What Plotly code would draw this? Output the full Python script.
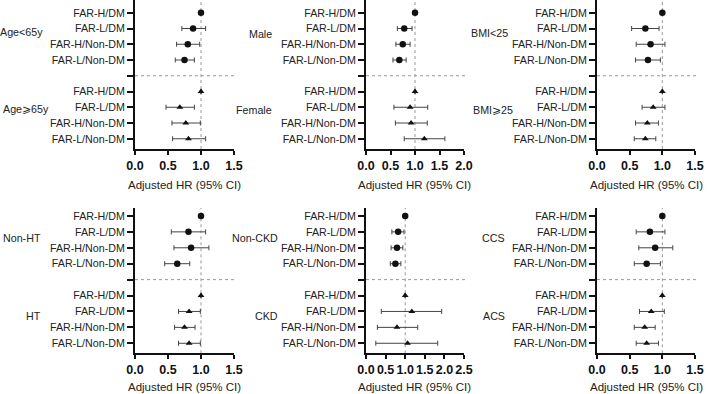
import plotly.graph_objects as go

# ---------------- data ----------------
row_labels = ["FAR-H/DM", "FAR-L/DM", "FAR-H/Non-DM", "FAR-L/Non-DM"]

# panel 1: age
age_lt65_hr = [1.00, 0.88, 0.80, 0.75]
age_lt65_lo = [None, 0.71, 0.63, 0.61]
age_lt65_hi = [None, 1.07, 0.98, 0.90]
age_ge65_hr = [1.00, 0.68, 0.77, 0.81]
age_ge65_lo = [None, 0.47, 0.56, 0.57]
age_ge65_hi = [None, 0.90, 0.99, 1.07]

# panel 2: sex
male_hr = [1.00, 0.78, 0.75, 0.68]
male_lo = [None, 0.64, 0.61, 0.55]
male_hi = [None, 0.94, 0.90, 0.82]
female_hr = [1.00, 0.90, 0.92, 1.19]
female_lo = [None, 0.57, 0.60, 0.78]
female_hi = [None, 1.26, 1.25, 1.61]

# panel 3: BMI
bmi_lt25_hr = [1.00, 0.74, 0.82, 0.78]
bmi_lt25_lo = [None, 0.53, 0.60, 0.59]
bmi_lt25_hi = [None, 0.95, 1.04, 0.97]
bmi_ge25_hr = [1.00, 0.86, 0.77, 0.74]
bmi_ge25_lo = [None, 0.69, 0.59, 0.57]
bmi_ge25_hi = [None, 1.04, 0.94, 0.90]

# panel 4: hypertension
nonht_hr = [1.00, 0.81, 0.85, 0.64]
nonht_lo = [None, 0.55, 0.59, 0.45]
nonht_hi = [None, 1.07, 1.12, 0.83]
ht_hr = [1.00, 0.82, 0.75, 0.82]
ht_lo = [None, 0.66, 0.60, 0.66]
ht_hi = [None, 0.99, 0.91, 0.99]

# panel 5: CKD
nonckd_hr = [1.00, 0.82, 0.79, 0.75]
nonckd_lo = [None, 0.66, 0.64, 0.62]
nonckd_hi = [None, 0.97, 0.94, 0.89]
ckd_hr = [1.00, 1.17, 0.79, 1.06]
ckd_lo = [None, 0.39, 0.29, 0.25]
ckd_hi = [None, 1.93, 1.32, 1.83]

# panel 6: CCS / ACS
ccs_hr = [1.00, 0.81, 0.89, 0.76]
ccs_lo = [None, 0.60, 0.64, 0.57]
ccs_hi = [None, 1.04, 1.16, 0.97]
acs_hr = [1.00, 0.83, 0.73, 0.76]
acs_lo = [None, 0.65, 0.57, 0.60]
acs_hi = [None, 1.03, 0.89, 0.94]

group_names = [("Age<65y", "Age\u2a7e65y"), ("Male", "Female"), ("BMI<25", "BMI\u2a7e25"),
               ("Non-HT", "HT"), ("Non-CKD", "CKD"), ("CCS", "ACS")]
x_max = [1.5, 2.0, 1.5, 1.5, 2.5, 1.5]
x_tick_vals = [[0, 0.5, 1.0, 1.5], [0, 0.5, 1.0, 1.5, 2.0], [0, 0.5, 1.0, 1.5],
               [0, 0.5, 1.0, 1.5], [0, 0.5, 1.0, 1.5, 2.0, 2.5], [0, 0.5, 1.0, 1.5]]

panels = [
    ((age_lt65_hr, age_lt65_lo, age_lt65_hi), (age_ge65_hr, age_ge65_lo, age_ge65_hi)),
    ((male_hr, male_lo, male_hi), (female_hr, female_lo, female_hi)),
    ((bmi_lt25_hr, bmi_lt25_lo, bmi_lt25_hi), (bmi_ge25_hr, bmi_ge25_lo, bmi_ge25_hi)),
    ((nonht_hr, nonht_lo, nonht_hi), (ht_hr, ht_lo, ht_hi)),
    ((nonckd_hr, nonckd_lo, nonckd_hi), (ckd_hr, ckd_lo, ckd_hi)),
    ((ccs_hr, ccs_lo, ccs_hi), (acs_hr, acs_lo, acs_hi)),
]

# ---------------- layout geometry (pixels) ----------------
W, H = 708, 394
FONT = "Liberation Sans, Arial, sans-serif"
x_px = [(135, 234), (366, 464), (597, 695), (135, 234), (366, 464), (597, 695)]
y_px = [(0, 149), (0, 149), (0, 149), (208, 353.3), (208, 353.3), (208, 353.3)]
y_range = [(8.65, -0.81)] * 3 + [(8.63, -0.5)] * 3
# (x position px, anchor) for each group label
label_pos = [((45, "right"), (0.5, "left")), ((274, "right"), (274, "right")),
             ((510, "right"), (470.5, "left")), ((43, "right"), (43, "right")),
             ((280, "right"), (280, "right")), ((507, "right"), (507, "right"))]
label_y_idx = [(1.25, 6.13), (1.35, 6.2), (1.3, 6.2), (1.4, 6.27), (1.4, 6.3), (1.37, 6.3)]
title_y_px = [185, 185, 185, 387, 387, 387]

y_tick_vals = [0, 1, 2, 3, 4, 5, 6, 7, 8]
y_tick_text = row_labels + [""] + row_labels

fig = go.Figure()
shapes = []
annotations = []


def err(hr, lo, hi):
    plus = [None if h is None else h - v for v, h in zip(hr, hi)]
    minus = [None if l is None else v - l for v, l in zip(hr, lo)]
    return plus, minus


for i, (top, bot) in enumerate(panels):
    n = i + 1
    xa = "x" if n == 1 else f"x{n}"
    ya = "y" if n == 1 else f"y{n}"
    for grp, offset, sym, msize in ((top, 0, "circle", 6.5), (bot, 5, "triangle-up", 6)):
        hr, lo, hi = grp
        plus, minus = err(hr, lo, hi)
        fig.add_trace(go.Scatter(
            x=hr, y=[offset + k for k in range(4)], xaxis=xa, yaxis=ya,
            mode="markers",
            marker=dict(symbol=sym, size=msize, color="#111111"),
            error_x=dict(type="data", symmetric=False, array=plus, arrayminus=minus,
                         color="#444444", thickness=1, width=2.5),
            showlegend=False, hoverinfo="x+y"))

    x0, x1 = x_px[i]
    yt, yb = y_px[i]
    fig.update_layout(**{
        ("xaxis" if n == 1 else f"xaxis{n}"): dict(
            domain=[x0 / W, x1 / W], range=[0, x_max[i]], anchor=ya,
            tickvals=x_tick_vals[i], tickformat=".1f", tickangle=0, automargin=False,
            showline=True, linecolor="#111111", linewidth=2,
            ticks="outside", ticklen=4, tickwidth=1.5, tickcolor="#111111",
            showgrid=False, zeroline=False,
            tickfont=dict(family=FONT, size=12.5, color="#111111", weight="bold")),
        ("yaxis" if n == 1 else f"yaxis{n}"): dict(
            domain=[1 - yb / H, 1 - yt / H], range=list(y_range[i]), anchor=xa,
            tickvals=y_tick_vals, ticktext=y_tick_text, automargin=False,
            showline=True, linecolor="#111111", linewidth=2,
            ticks="outside", ticklen=6, tickwidth=1.5, tickcolor="#111111",
            showgrid=False, zeroline=False,
            tickfont=dict(family=FONT, size=10.7, color="#222222")),
    })
    # reference line at HR = 1
    shapes.append(dict(type="line", xref=xa, yref=f"{ya} domain", x0=1, x1=1, y0=0, y1=1,
                       line=dict(color="#999999", width=1, dash="dot"), layer="below"))
    # separator between subgroups
    shapes.append(dict(type="line", xref=f"{xa} domain", yref=ya, x0=0, x1=1.03, y0=4, y1=4,
                       line=dict(color="#999999", width=1, dash="dot"), layer="below"))
    # group labels
    for name, yi, (lx, anc) in zip(group_names[i], label_y_idx[i], label_pos[i]):
        annotations.append(dict(text=name, xref="paper", yref=ya, x=lx / W, y=yi,
                                xanchor=anc, yanchor="middle", showarrow=False,
                                font=dict(family=FONT, size=10.7, color="#222222")))
    # x-axis title
    annotations.append(dict(text="Adjusted HR (95% CI)", xref="paper", yref="paper",
                            x=(x0 + x1) / 2 / W, y=1 - title_y_px[i] / H,
                            xanchor="center", yanchor="middle", showarrow=False,
                            font=dict(family=FONT, size=11.5, color="#222222")))

fig.update_layout(width=W, height=H, margin=dict(l=0, r=0, t=0, b=0, autoexpand=False),
                  plot_bgcolor="white", paper_bgcolor="white",
                  shapes=shapes, annotations=annotations)

fig.write_html("out.html", config={"displayModeBar": False},
               post_script="document.body.style.margin='0';document.body.style.overflow='hidden';")
